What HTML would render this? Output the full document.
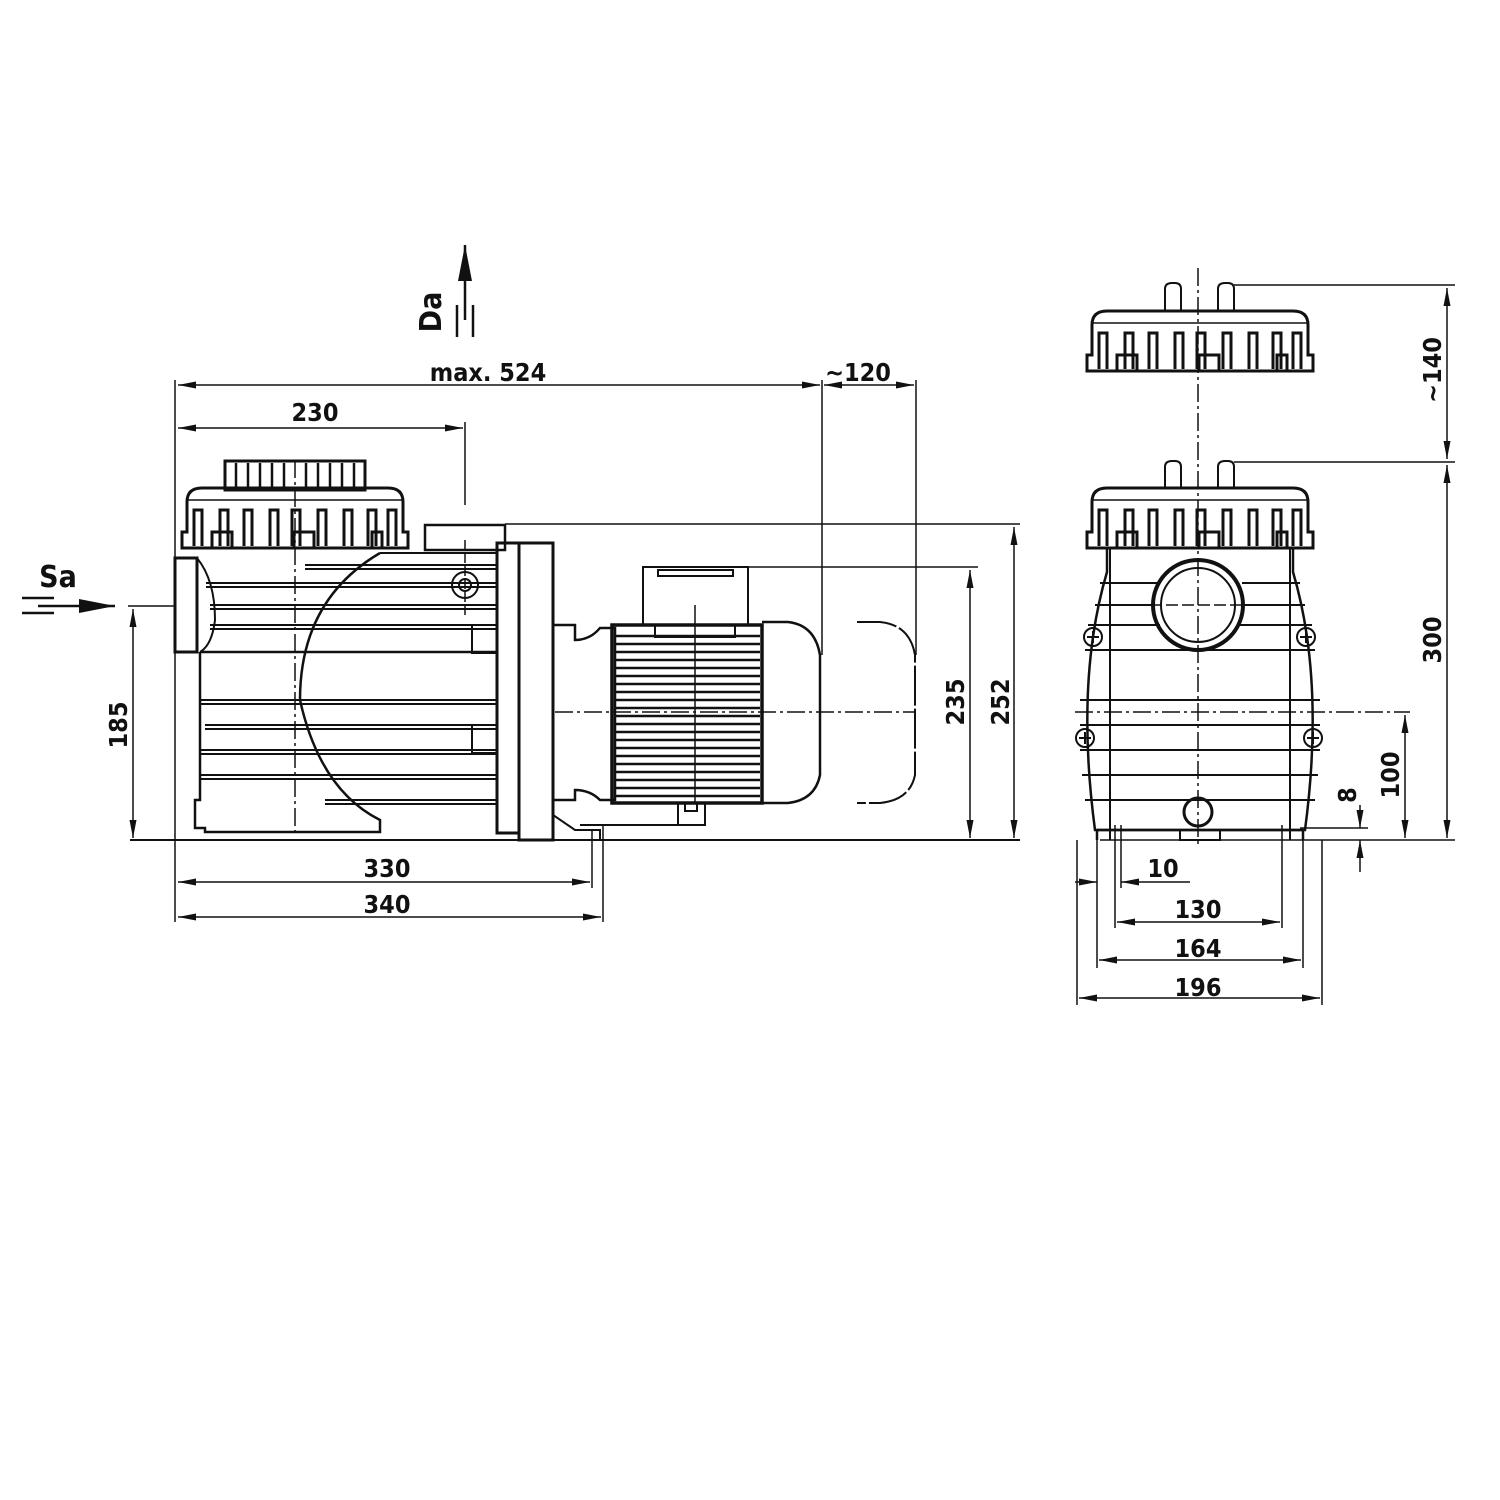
<!DOCTYPE html>
<html><head><meta charset="utf-8"><style>
html,body{margin:0;padding:0;background:#fff}
svg{display:block}
text{font-family:"DejaVu Sans Condensed","DejaVu Sans","Liberation Sans",sans-serif;font-weight:bold;fill:#111;font-stretch:condensed}
</style></head><body>
<svg width="1500" height="1500" viewBox="0 0 1500 1500" xmlns="http://www.w3.org/2000/svg">
<defs>
<marker id="a" viewBox="0 0 18 7" refX="18" refY="3.5" markerWidth="18" markerHeight="7" markerUnits="userSpaceOnUse" orient="auto-start-reverse"><path d="M0,0L18,3.5L0,7z" fill="#111"/></marker>
<marker id="b" viewBox="0 0 36 14" refX="36" refY="7" markerWidth="36" markerHeight="14" markerUnits="userSpaceOnUse" orient="auto-start-reverse"><path d="M0,0L36,7L0,14z" fill="#111"/></marker>
<g id="lid">
 <path d="M0,60 L0,44 L5,44 L5,14 Q5,0 20,0 L206,0 Q221,0 221,14 L221,44 L226,44 L226,60 Z" fill="none" stroke="#111" stroke-width="3"/>
 <line x1="5" y1="12" x2="221" y2="12" stroke="#111" stroke-width="1.5"/>
 <g fill="none" stroke="#111" stroke-width="3">
  <path d="M12,58V22h8v36"/><path d="M38,58V22h8v36"/><path d="M62,58V22h8v36"/><path d="M88,58V22h8v36"/>
  <path d="M110,58V22h8v36"/><path d="M136,58V22h8v36"/><path d="M162,58V22h8v36"/><path d="M186,58V22h8v36"/><path d="M206,58V22h8v36"/>
  <rect x="30" y="44" width="20" height="16"/><rect x="112" y="44" width="20" height="16"/><rect x="190" y="44" width="10" height="16"/>
 </g>
</g>
</defs>
<g stroke="#111" fill="none" stroke-width="2">
<!-- ===== LEFT VIEW ===== -->
<rect x="225" y="461" width="140" height="29" stroke-width="3"/>
<g stroke-width="2.5">
<line x1="236" y1="463" x2="236" y2="488"/><line x1="248" y1="463" x2="248" y2="488"/><line x1="260" y1="463" x2="260" y2="488"/><line x1="272" y1="463" x2="272" y2="488"/><line x1="284" y1="463" x2="284" y2="488"/><line x1="306" y1="463" x2="306" y2="488"/><line x1="318" y1="463" x2="318" y2="488"/><line x1="330" y1="463" x2="330" y2="488"/><line x1="342" y1="463" x2="342" y2="488"/><line x1="354" y1="463" x2="354" y2="488"/>
</g>
<use href="#lid" x="182" y="488"/>
<rect x="175" y="558" width="22" height="94" stroke-width="3"/>
<path d="M197,558 Q215,580 215,620 Q212,645 200,652"/>
<path d="M200,652 L200,800 L195,800 L195,828 L205,828 L205,832 L380,832 L380,820 Q320,790 300,700 Q300,600 380,553" stroke-width="2.5"/>
<path d="M200,652 L497,652" stroke-width="2.5"/>
<path d="M380,553 L497,553"/>
<g stroke-width="2">
<line x1="305" y1="565" x2="497" y2="565"/><line x1="305" y1="569" x2="497" y2="569"/>
<line x1="206" y1="583" x2="497" y2="583"/><line x1="206" y1="587" x2="497" y2="587"/>
<line x1="210" y1="605" x2="497" y2="605"/><line x1="210" y1="609" x2="497" y2="609"/>
<line x1="210" y1="625" x2="497" y2="625"/><line x1="210" y1="629" x2="497" y2="629"/>
<line x1="200" y1="700" x2="497" y2="700"/><line x1="200" y1="704" x2="497" y2="704"/>
<line x1="205" y1="725" x2="497" y2="725"/><line x1="205" y1="729" x2="497" y2="729"/>
<line x1="200" y1="750" x2="497" y2="750"/><line x1="200" y1="754" x2="497" y2="754"/>
<line x1="200" y1="775" x2="497" y2="775"/><line x1="200" y1="779" x2="497" y2="779"/>
<line x1="325" y1="800" x2="497" y2="800"/><line x1="325" y1="804" x2="497" y2="804"/>
</g>
<rect x="472" y="625" width="25" height="28"/><rect x="472" y="725" width="25" height="28"/>
<rect x="425" y="525" width="80" height="25" stroke-width="2.5"/>
<circle cx="465" cy="585" r="13"/><circle cx="465" cy="585" r="6"/>
<rect x="497" y="543" width="22" height="290" stroke-width="3"/>
<rect x="519" y="543" width="34" height="297" stroke-width="3"/>
<path d="M553,625 L575,625 L575,640 Q590,640 600,628 L615,628 L615,800 L600,800 Q590,790 575,790 L575,800 L553,800" stroke-width="2.5"/>
<path d="M553,800 L553,815 L575,830 L600,830 L600,840" />
<path d="M580,825 L705,825"/>
<rect x="612" y="625" width="150" height="178" stroke-width="3.5"/>
<g stroke-width="2.5">
<line x1="615" y1="636" x2="760" y2="636"/><line x1="615" y1="644" x2="760" y2="644"/><line x1="615" y1="652" x2="760" y2="652"/><line x1="615" y1="660" x2="760" y2="660"/><line x1="615" y1="668" x2="760" y2="668"/><line x1="615" y1="676" x2="760" y2="676"/><line x1="615" y1="684" x2="760" y2="684"/><line x1="615" y1="692" x2="760" y2="692"/><line x1="615" y1="700" x2="760" y2="700"/><line x1="615" y1="708" x2="760" y2="708"/><line x1="615" y1="716" x2="760" y2="716"/><line x1="615" y1="724" x2="760" y2="724"/><line x1="615" y1="732" x2="760" y2="732"/><line x1="615" y1="740" x2="760" y2="740"/><line x1="615" y1="748" x2="760" y2="748"/><line x1="615" y1="756" x2="760" y2="756"/><line x1="615" y1="764" x2="760" y2="764"/><line x1="615" y1="772" x2="760" y2="772"/><line x1="615" y1="780" x2="760" y2="780"/><line x1="615" y1="788" x2="760" y2="788"/><line x1="615" y1="796" x2="760" y2="796"/>
</g>
<rect x="643" y="567" width="105" height="58"/>
<rect x="658" y="570" width="75" height="6"/>
<rect x="655" y="625" width="80" height="12"/>
<path d="M762,622 L788,622 Q815,625 820,655 L820,775 Q815,800 788,803 L762,803" stroke-width="2.5"/>
<path d="M857,622 L880,622 Q910,625 915,655 L915,775 Q910,800 880,803 L857,803" stroke-dasharray="40 3"/>
<rect x="678" y="803" width="27" height="22"/>
<rect x="685" y="803" width="12" height="8"/>
<line x1="295" y1="460" x2="295" y2="835" stroke-width="1.5" stroke-dasharray="18 4 3 4"/>
<line x1="555" y1="712" x2="915" y2="712" stroke-width="1.5" stroke-dasharray="18 4 3 4"/>
<line x1="695" y1="605" x2="695" y2="803" stroke-width="1.5"/>
<line x1="465" y1="540" x2="465" y2="615" stroke-width="1.5" stroke-dasharray="10 3"/>
<line x1="130" y1="840" x2="1020" y2="840"/>
<line x1="175" y1="380" x2="175" y2="922" stroke-width="1.5"/>
<line x1="465" y1="422" x2="465" y2="505" stroke-width="1.5"/>
<line x1="822" y1="380" x2="822" y2="655" stroke-width="1.5"/>
<line x1="916" y1="380" x2="916" y2="655" stroke-width="1.5"/>
<line x1="178" y1="385" x2="820" y2="385" stroke-width="1.5" marker-start="url(#a)" marker-end="url(#a)"/>
<line x1="824" y1="385" x2="914" y2="385" stroke-width="1.5" marker-start="url(#a)" marker-end="url(#a)"/>
<line x1="178" y1="428" x2="463" y2="428" stroke-width="1.5" marker-start="url(#a)" marker-end="url(#a)"/>
<line x1="505" y1="524" x2="1020" y2="524" stroke-width="1.5"/>
<line x1="748" y1="567" x2="978" y2="567" stroke-width="1.5"/>
<line x1="970" y1="570" x2="970" y2="838" stroke-width="1.5" marker-start="url(#a)" marker-end="url(#a)"/>
<line x1="1014" y1="527" x2="1014" y2="838" stroke-width="1.5" marker-start="url(#a)" marker-end="url(#a)"/>
<line x1="128" y1="606" x2="175" y2="606" stroke-width="1.5"/>
<line x1="133" y1="609" x2="133" y2="838" stroke-width="1.5" marker-start="url(#a)" marker-end="url(#a)"/>
<line x1="592" y1="830" x2="592" y2="888" stroke-width="1.5"/>
<line x1="603" y1="825" x2="603" y2="922" stroke-width="1.5"/>
<line x1="178" y1="882" x2="590" y2="882" stroke-width="1.5" marker-start="url(#a)" marker-end="url(#a)"/>
<line x1="178" y1="917" x2="601" y2="917" stroke-width="1.5" marker-start="url(#a)" marker-end="url(#a)"/>
<line x1="38" y1="606" x2="115" y2="606" stroke-width="2.5" marker-end="url(#b)"/>
<line x1="22" y1="598" x2="54" y2="598" stroke-width="2.5"/><line x1="22" y1="613" x2="54" y2="613" stroke-width="2.5"/>
<line x1="465" y1="320" x2="465" y2="245" stroke-width="2.5" marker-end="url(#b)"/>
<line x1="457" y1="305" x2="457" y2="337" stroke-width="2.5"/><line x1="473" y1="305" x2="473" y2="337" stroke-width="2.5"/>

<!-- ===== RIGHT VIEW ===== -->
<path d="M1165,311 V289 Q1165,283 1172,283 H1175 Q1181,283 1181,289 V311"/>
<path d="M1218,311 V289 Q1218,283 1225,283 H1228 Q1234,283 1234,289 V311"/>
<use href="#lid" x="1087" y="311"/>
<path d="M1165,489 V467 Q1165,461 1172,461 H1175 Q1181,461 1181,467 V489"/>
<path d="M1218,489 V467 Q1218,461 1225,461 H1228 Q1234,461 1234,467 V489"/>
<use href="#lid" x="1087" y="488"/>
<path d="M1107,548 L1107,572 Q1075,680 1095,830 L1305,830 Q1325,680 1293,572 L1293,548" stroke-width="2.5"/>
<line x1="1110" y1="548" x2="1110" y2="840" stroke-width="2"/><line x1="1290" y1="548" x2="1290" y2="840" stroke-width="2"/>
<g stroke-width="2">
<line x1="1100" y1="583" x2="1158" y2="583"/><line x1="1242" y1="583" x2="1300" y2="583"/>
<line x1="1095" y1="605" x2="1155" y2="605"/><line x1="1245" y1="605" x2="1305" y2="605"/>
<line x1="1088" y1="625" x2="1160" y2="625"/><line x1="1240" y1="625" x2="1312" y2="625"/>
<line x1="1085" y1="650" x2="1315" y2="650"/>
<line x1="1080" y1="700" x2="1320" y2="700"/><line x1="1080" y1="725" x2="1320" y2="725"/>
<line x1="1080" y1="750" x2="1320" y2="750"/><line x1="1082" y1="775" x2="1318" y2="775"/>
<line x1="1085" y1="800" x2="1315" y2="800"/>
</g>
<circle cx="1198" cy="605" r="45" stroke-width="4"/>
<circle cx="1198" cy="605" r="37" stroke-width="2"/>
<circle cx="1198" cy="812" r="14" stroke-width="3"/>
<g stroke-width="2"><circle cx="1093" cy="637" r="9"/><circle cx="1306" cy="637" r="9"/><circle cx="1085" cy="738" r="9"/><circle cx="1313" cy="738" r="9"/>
<path d="M1087,637h12M1093,631v12M1300,637h12M1306,631v12M1079,738h12M1085,732v12M1307,738h12M1313,732v12"/></g>
<path d="M1097,830 L1097,840 M1303,830 L1303,840 M1097,830 L1303,830" stroke-width="2.5"/>
<rect x="1180" y="830" width="40" height="10"/>
<line x1="1198" y1="268" x2="1198" y2="848" stroke-width="1.5" stroke-dasharray="18 4 3 4"/>
<line x1="1075" y1="712" x2="1410" y2="712" stroke-width="1.5" stroke-dasharray="18 4 3 4"/>
<line x1="1150" y1="605" x2="1248" y2="605" stroke-width="1.5" stroke-dasharray="12 4"/>
<line x1="1234" y1="285" x2="1455" y2="285" stroke-width="1.5"/>
<line x1="1234" y1="462" x2="1455" y2="462" stroke-width="1.5"/>
<line x1="1100" y1="840" x2="1455" y2="840" stroke-width="1.5"/>
<line x1="1300" y1="828" x2="1368" y2="828" stroke-width="1.5"/>
<line x1="1447" y1="288" x2="1447" y2="459" stroke-width="1.5" marker-start="url(#a)" marker-end="url(#a)"/>
<line x1="1447" y1="465" x2="1447" y2="838" stroke-width="1.5" marker-start="url(#a)" marker-end="url(#a)"/>
<line x1="1405" y1="715" x2="1405" y2="838" stroke-width="1.5" marker-start="url(#a)" marker-end="url(#a)"/>
<line x1="1360" y1="805" x2="1360" y2="828" stroke-width="1.5" marker-end="url(#a)"/>
<line x1="1360" y1="872" x2="1360" y2="840" stroke-width="1.5" marker-end="url(#a)"/>
<line x1="1077" y1="840" x2="1077" y2="1005" stroke-width="1.5"/>
<line x1="1322" y1="840" x2="1322" y2="1005" stroke-width="1.5"/>
<line x1="1097" y1="840" x2="1097" y2="968" stroke-width="1.5"/>
<line x1="1303" y1="840" x2="1303" y2="968" stroke-width="1.5"/>
<line x1="1115" y1="825" x2="1115" y2="928" stroke-width="1.5"/>
<line x1="1282" y1="825" x2="1282" y2="928" stroke-width="1.5"/>
<line x1="1121" y1="825" x2="1121" y2="888" stroke-width="1.5"/>
<line x1="1075" y1="882" x2="1097" y2="882" stroke-width="1.5" marker-end="url(#a)"/>
<line x1="1190" y1="882" x2="1121" y2="882" stroke-width="1.5" marker-end="url(#a)"/>
<line x1="1117" y1="922" x2="1280" y2="922" stroke-width="1.5" marker-start="url(#a)" marker-end="url(#a)"/>
<line x1="1099" y1="960" x2="1301" y2="960" stroke-width="1.5" marker-start="url(#a)" marker-end="url(#a)"/>
<line x1="1079" y1="998" x2="1320" y2="998" stroke-width="1.5" marker-start="url(#a)" marker-end="url(#a)"/>
</g>
<g font-size="25">
<text x="488" y="381" text-anchor="middle">max. 524</text>
<text x="858" y="381" text-anchor="middle">~120</text>
<text x="315" y="421" text-anchor="middle">230</text>
<text x="387" y="877" text-anchor="middle">330</text>
<text x="387" y="913" text-anchor="middle">340</text>
<text x="58" y="587" text-anchor="middle" font-size="30">Sa</text>
<text transform="translate(441,312) rotate(-90)" text-anchor="middle" font-size="30">Da</text>
<text transform="translate(127,725) rotate(-90)" text-anchor="middle">185</text>
<text transform="translate(964,702) rotate(-90)" text-anchor="middle">235</text>
<text transform="translate(1009,702) rotate(-90)" text-anchor="middle">252</text>
<text transform="translate(1441,370) rotate(-90)" text-anchor="middle">~140</text>
<text transform="translate(1441,640) rotate(-90)" text-anchor="middle">300</text>
<text transform="translate(1399,775) rotate(-90)" text-anchor="middle">100</text>
<text transform="translate(1356,795) rotate(-90)" text-anchor="middle">8</text>
<text x="1163" y="877" text-anchor="middle">10</text>
<text x="1198" y="918" text-anchor="middle">130</text>
<text x="1198" y="957" text-anchor="middle">164</text>
<text x="1198" y="996" text-anchor="middle">196</text>
</g>
</svg>
</body></html>
